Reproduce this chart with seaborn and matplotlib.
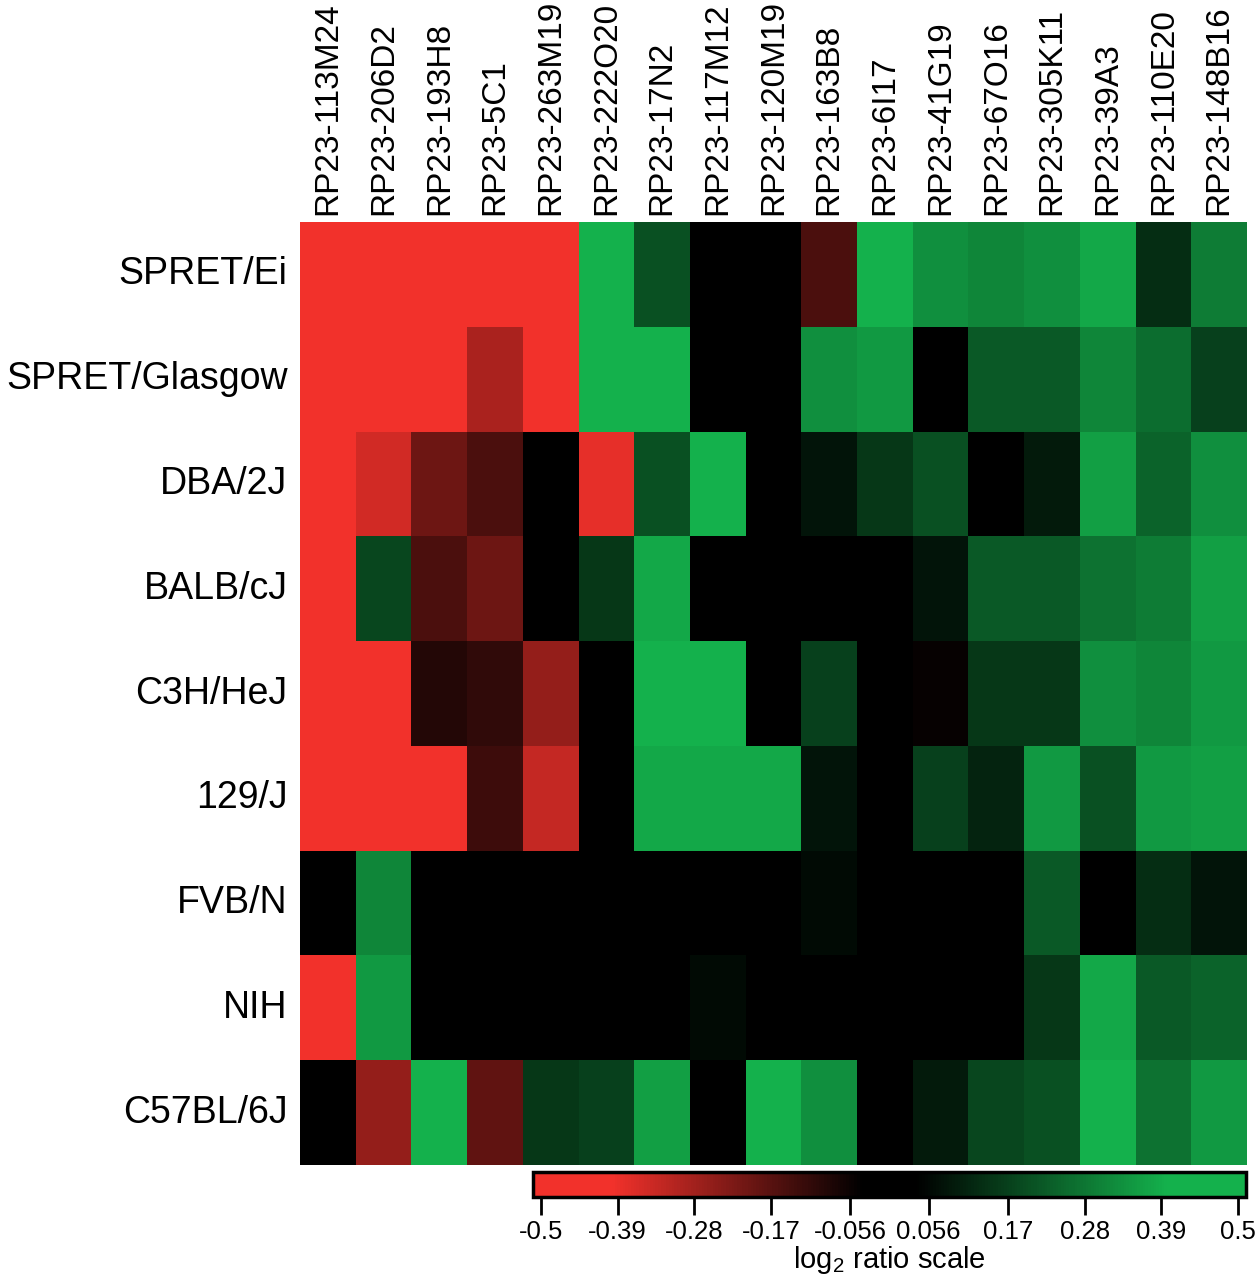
import numpy as np
import pandas as pd
import matplotlib
matplotlib.use('Agg')
import matplotlib.pyplot as plt
import seaborn as sns
from matplotlib.colors import LinearSegmentedColormap
from matplotlib.patches import Rectangle

# 字型設定
sns.set_style('white')
plt.rcParams['font.family'] = ['Liberation Sans', 'DejaVu Sans']
plt.rcParams['mathtext.default'] = 'regular'
plt.rcParams['text.color'] = 'black'
plt.rcParams['xtick.color'] = 'black'
plt.rcParams['ytick.color'] = 'black'
plt.rcParams['axes.labelcolor'] = 'black'

# BAC clones (columns)
clones = ['RP23-113M24', 'RP23-206D2', 'RP23-193H8', 'RP23-5C1', 'RP23-263M19',
          'RP23-222O20', 'RP23-17N2', 'RP23-117M12', 'RP23-120M19', 'RP23-163B8',
          'RP23-6I17', 'RP23-41G19', 'RP23-67O16', 'RP23-305K11', 'RP23-39A3',
          'RP23-110E20', 'RP23-148B16']

# mouse strains (rows)
strains = ['SPRET/Ei', 'SPRET/Glasgow', 'DBA/2J', 'BALB/cJ', 'C3H/HeJ',
           '129/J', 'FVB/N', 'NIH', 'C57BL/6J']

# log2 ratios per strain
spret_ei = [-0.5, -0.5, -0.5, -0.5, -0.5, 0.45, 0.20, 0.0, 0.0, -0.15, 0.45, 0.33, 0.31, 0.33, 0.38, 0.13, 0.29]
spret_glasgow = [-0.5, -0.5, -0.5, -0.29, -0.5, 0.45, 0.45, 0.0, 0.0, 0.33, 0.35, 0.0, 0.22, 0.22, 0.31, 0.26, 0.17]
dba_2j = [-0.5, -0.35, -0.20, -0.15, -0.02, -0.38, 0.20, 0.45, 0.0, 0.08, 0.15, 0.20, 0.0, 0.09, 0.36, 0.24, 0.33]
balb_cj = [-0.5, 0.18, -0.15, -0.20, 0.0, 0.15, 0.38, 0.0, 0.0, 0.0, 0.0, 0.08, 0.22, 0.22, 0.27, 0.29, 0.36]
c3h_hej = [-0.5, -0.5, -0.09, -0.11, -0.26, 0.0, 0.45, 0.45, 0.0, 0.17, 0.0, -0.05, 0.15, 0.15, 0.33, 0.31, 0.35]
j129 = [-0.5, -0.5, -0.5, -0.13, -0.33, 0.0, 0.38, 0.38, 0.38, 0.08, 0.0, 0.17, 0.11, 0.35, 0.20, 0.35, 0.36]
fvb_n = [0.0, 0.31, 0.0, 0.0, 0.0, 0.0, 0.0, 0.0, 0.0, 0.06, 0.0, 0.0, 0.0, 0.22, 0.0, 0.13, 0.08]
nih = [-0.5, 0.35, 0.0, 0.0, 0.0, 0.0, 0.0, 0.06, 0.0, 0.0, 0.0, 0.0, 0.0, 0.15, 0.38, 0.22, 0.24]
c57bl_6j = [0.0, -0.26, 0.45, -0.18, 0.15, 0.17, 0.36, 0.0, 0.45, 0.33, 0.0, 0.09, 0.18, 0.20, 0.45, 0.27, 0.35]

cbar_ticks = [-0.5, -0.39, -0.28, -0.17, -0.056, 0.056, 0.17, 0.28, 0.39, 0.5]
cbar_ticklabels = ['-0.5', '-0.39', '-0.28', '-0.17', '-0.056', '0.056', '0.17', '0.28', '0.39', '0.5']

df = pd.DataFrame([spret_ei, spret_glasgow, dba_2j, balb_cj, c3h_hej,
                   j129, fvb_n, nih, c57bl_6j], index=strains, columns=clones)

# 紅-黑-綠 色階
red = '#F2312B'
green = '#14B14C'
cmap = LinearSegmentedColormap.from_list('rg', [(0.0, red), (0.1, red), (0.46, 'black'),
                                                (0.54, 'black'), (0.9, green), (1.0, green)])

fig = plt.figure(figsize=(12.57, 12.8), dpi=100)
W, H = 1257, 1280
ax = fig.add_axes([300 / W, (H - 1165) / H, 947 / W, 943 / H])
# colorbar: ticks sit a little inside the framed bar
cax = fig.add_axes([541 / W, (H - 1196) / H, 697 / W, 23 / H])

sns.heatmap(df, ax=ax, cmap=cmap, vmin=-0.5, vmax=0.5, cbar_ax=cax,
            cbar_kws={'orientation': 'horizontal', 'ticks': cbar_ticks})

ax.xaxis.tick_top()
ax.set_xticklabels(clones, rotation=90, fontsize=24)
ax.set_yticklabels(strains, rotation=0, fontsize=27)
ax.tick_params(axis='x', length=0, pad=5)
ax.tick_params(axis='y', length=0, pad=9)
ax.set_xlabel('')
ax.set_ylabel('')

# colorbar
cbar = ax.collections[0].colorbar
cbar.outline.set_visible(False)
cax.set_xticklabels(cbar_ticklabels)
cax.tick_params(axis='x', direction='out', length=14, width=2, labelsize=18.5, pad=3)
cax.set_xlabel('log$_2$ ratio scale', fontsize=21, labelpad=0)

# end caps and frame of the bar
fig.patches.append(Rectangle((533 / W, (H - 1197) / H), 9 / W, 25 / H, transform=fig.transFigure,
                             facecolor=red, edgecolor='none', zorder=0))
fig.patches.append(Rectangle((1237 / W, (H - 1197) / H), 9 / W, 25 / H, transform=fig.transFigure,
                             facecolor=green, edgecolor='none', zorder=0))
fig.add_artist(Rectangle((533 / W, (H - 1197) / H), 713 / W, 25 / H, transform=fig.transFigure,
                         facecolor='none', edgecolor='black', linewidth=2.5, zorder=5))

fig.savefig('out.png', dpi=100)
